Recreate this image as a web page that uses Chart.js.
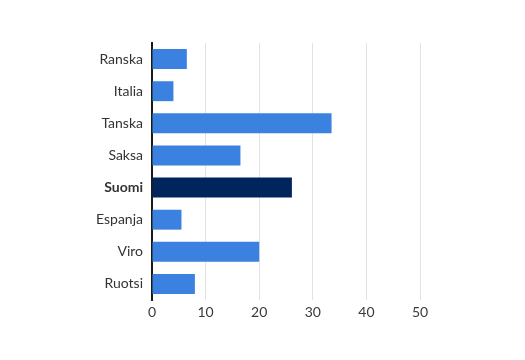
<!DOCTYPE html>
<html>
<head>
<meta charset="utf-8">
<script src="https://cdn.jsdelivr.net/npm/chart.js@4"></script>
<style>
  body { margin: 0; background: #fff; }
  #wrap { width: 525px; height: 360px; }
</style>
</head>
<body>
<div id="wrap"><canvas id="chart" width="525" height="360"></canvas></div>
<script>
const countries = ['Ranska', 'Italia', 'Tanska', 'Saksa', 'Suomi', 'Espanja', 'Viro', 'Ruotsi']
const values = [6.5, 4.0, 33.5, 16.5, 26.1, 5.5, 20.0, 8.0]
const xTicks = [0, 10, 20, 30, 40, 50]
const highlight = 'Suomi'

const barColors = countries.map(c => c == highlight ? '#00245c' : '#3b82e0')

const data = {
  labels: countries,
  datasets: [{
    data: values,
    backgroundColor: barColors,
    borderWidth: 0,
    barPercentage: 0.62,
    categoryPercentage: 1
  }]
}

const config = {
  type: 'bar',
  data: data,
  options: {
    indexAxis: 'y',
    responsive: false,
    animation: false,
    layout: { padding: { top: 43, right: 105, left: 0, bottom: 0 } },
    plugins: { legend: { display: false }, tooltip: { enabled: false } },
    scales: {
      x: {
        min: 0,
        max: 50,
        afterBuildTicks: s => { s.ticks = xTicks.map(v => ({ value: v })) },
        afterFit: s => { s.height = 60 },
        grid: { color: '#e3e3e3', lineWidth: 1, drawTicks: false },
        border: { display: false },
        ticks: { padding: 4, color: '#3a3a3a', font: { family: 'Lato', size: 14 } }
      },
      y: {
        afterFit: s => { s.width = 152 },
        grid: { display: false, drawTicks: false },
        border: { color: '#1a1a1a', width: 2 },
        ticks: {
          padding: 9,
          color: '#333',
          font: ctx => ({
            family: 'Lato',
            size: 14,
            weight: countries[ctx.index] == highlight ? 'bold' : 'normal'
          })
        }
      }
    }
  }
}

const chart = new Chart(document.getElementById('chart'), config)
</script>
</body>
</html>
